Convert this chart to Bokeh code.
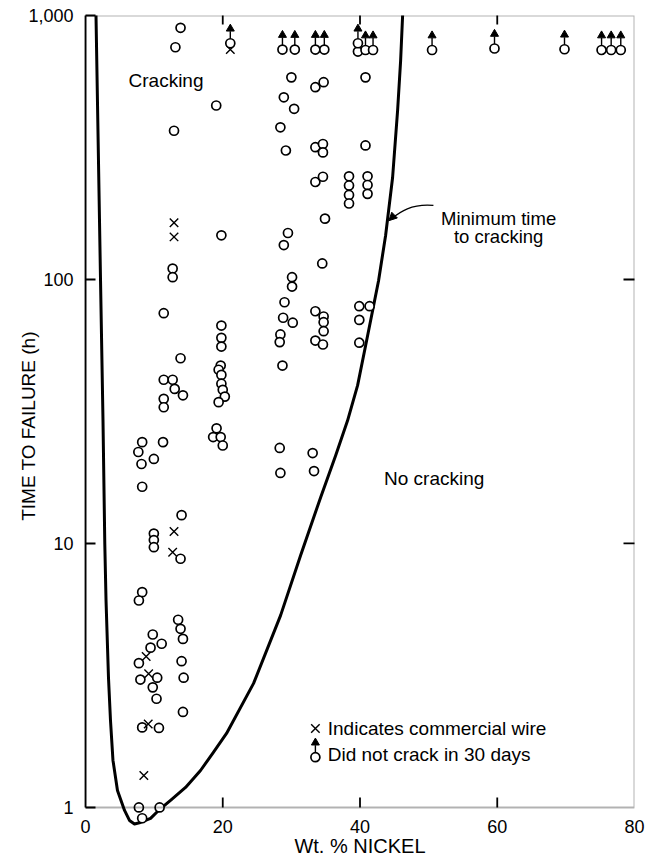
import math
from bokeh.plotting import figure
from bokeh.models import (LogAxis, LinearAxis, FixedTicker, Range1d, Label, Arrow,
                          NormalHead, LogScale, BoxAnnotation)
from bokeh.embed import file_html
from bokeh.resources import INLINE

FONT = "Liberation Sans"

# ---------------- data ----------------
cracked_ni = [13.85, 13.1, 12.9, 12.7, 12.7, 11.4, 13.85, 11.4, 12.7, 13.0, 14.2, 11.4, 11.4,
              8.26, 11.3, 7.7, 9.96, 8.16, 8.26, 14.0, 9.96, 9.96, 9.96, 13.85, 8.26, 7.78,
              13.5, 13.85, 14.2, 9.8, 11.1, 9.48, 7.78, 14.0, 8.0, 10.45, 9.8, 14.3, 10.35, 14.2,
              8.26, 10.7, 7.78, 10.8, 8.26,
              19.05, 19.8, 19.8, 19.8, 19.8, 19.7, 19.4, 19.8, 19.8, 20.0, 20.3, 19.4, 19.1, 18.6,
              19.7, 20.0,
              30.0, 28.9, 30.4, 28.4, 29.2, 29.5, 28.9, 30.1, 30.1, 29.0, 28.8, 30.2, 28.4, 28.3,
              28.7, 28.3, 28.4,
              33.5, 34.7, 33.5, 34.6, 34.6, 33.5, 34.6, 34.9, 34.5, 33.5, 34.7, 34.7, 34.7, 33.5,
              34.6, 33.1, 33.3,
              40.8, 40.8, 38.4, 38.4, 38.4, 38.4, 41.1, 41.1, 41.1, 39.9, 41.4, 39.9, 39.9, 39.7]
cracked_h = [898, 758, 366, 110, 102, 74.5, 50.3, 41.7, 41.7, 38.5, 36.4, 35.3, 32.8,
             24.2, 24.2, 22.2, 20.9, 20.0, 16.4, 12.8, 10.9, 10.3, 9.68, 8.75, 6.54, 6.08,
             5.14, 4.75, 4.35, 4.52, 4.17, 4.03, 3.52, 3.58, 3.05, 3.10, 2.85, 3.10, 2.58, 2.30,
             2.01, 2.00, 1.0, 1.0, 0.91,
             456, 147, 66.9, 60.1, 55.7, 47.2, 45.5, 43.5, 40.3, 38.2, 36.0, 34.3, 27.3, 25.3,
             25.3, 23.5,
             583, 490, 443, 377, 308, 150, 135, 102, 94, 82, 71.6, 68.6, 61.9, 57.9,
             47.2, 23.0, 18.5,
             535, 559, 317, 326, 303, 234, 245, 170, 115, 75.8, 72.4, 68.9, 63.7, 58.7,
             56.7, 22.0, 18.8,
             583, 322, 246, 227, 209, 194, 246, 228, 211, 79.2, 79.2, 70.3, 57.6, 730]

wire_ni = [12.9, 12.9, 12.9, 12.7, 8.84, 9.2, 9.14, 8.5, 21.1]
wire_h = [164, 145, 11.1, 9.27, 3.73, 3.21, 2.07, 1.32, 743]

nocrack_ni = [21.1, 28.7, 30.5, 33.5, 34.8, 39.7, 40.8, 41.9, 50.5, 59.6, 69.8, 75.2, 76.6, 78.0]
nocrack_h = [785, 743, 743, 743, 743, 785, 740, 740, 740, 750, 745, 740, 740, 740]

curve_ni = [1.45, 1.53, 2.19, 2.55, 2.81, 2.99, 3.35, 3.64, 4.0, 4.66, 5.69, 6.41, 7.14, 8.0,
            9.48, 10.64, 12.39, 14.58, 16.76, 18.66, 20.55, 24.49, 28.43, 31.34, 34.26, 36.44,
            38.19, 39.65, 40.82, 41.84, 42.71, 43.73, 44.75, 45.48, 45.92, 46.21, 46.3]
curve_h = [1100, 1000, 99, 29.2, 10, 6.1, 3.1, 2.14, 1.51, 1.16, 0.974, 0.893, 0.866, 0.877,
           0.909, 0.974, 1.063, 1.19, 1.38, 1.62, 1.907, 2.95, 5.34, 9.01, 14.94, 21.5,
           29.2, 39.7, 56.2, 76.3, 99.1, 146.8, 243.4, 436.8, 675, 1000, 1100]

x_ticks = [0, 20, 40, 60, 80]
y_ticks = [1, 10, 100, 1000]
y_tick_labels = ["1", "10", "100", "1,000"]
inner_x_ticks = [20, 40, 60]
inner_y_ticks = [10, 100]

# ---------------- figure ----------------
W, H = 647, 862
TOP, BOT = 15, 26
Y_START = 0.776   # the curve dips a little below the 1 h line
p = figure(width=W, height=H, output_backend="svg", toolbar_location=None,
           x_range=Range1d(0, 80), y_range=Range1d(Y_START, 1000),
           y_axis_type="log", x_axis_location=None, y_axis_location=None,
           min_border_left=85, min_border_right=13, min_border_top=TOP, min_border_bottom=BOT)
p.y_scale = LogScale()
p.outline_line_color = None
p.background_fill_color = "white"
p.border_fill_color = "white"
for g in p.grid:
    g.visible = False

PX_PER_DEC = (H - TOP - BOT) / (3 - math.log10(Y_START))
def up(h, px):
    """value that sits px screen pixels above h on the log axis"""
    return h * 10 ** (px / PX_PER_DEC)

LINE_W = 1.8
TICK_FS = "18px"

left = LogAxis(ticker=FixedTicker(ticks=y_ticks), bounds=(1, 1000),
               major_tick_in=10, major_tick_out=0, minor_tick_line_color=None,
               major_label_overrides={t: l for t, l in zip(y_ticks, y_tick_labels)},
               axis_line_width=LINE_W, major_tick_line_width=LINE_W,
               major_label_text_font=FONT, major_label_text_font_size=TICK_FS,
               major_label_text_color="black", major_label_standoff=12,
               axis_label="TIME TO FAILURE (h)", axis_label_text_font=FONT,
               axis_label_text_font_size="19px", axis_label_text_font_style="normal",
               axis_label_text_color="black", axis_label_standoff=-14)
p.add_layout(left, "left")

bottom = LinearAxis(ticker=FixedTicker(ticks=x_ticks),
                    axis_line_color=None, major_tick_line_color=None,
                    major_tick_in=0, major_tick_out=0, minor_tick_line_color=None,
                    major_label_text_font=FONT, major_label_text_font_size=TICK_FS,
                    major_label_text_color="black", major_label_standoff=-17,
                    axis_label="Wt. % NICKEL", axis_label_text_font=FONT,
                    axis_label_text_font_size="20px", axis_label_text_font_style="normal",
                    axis_label_text_color="black", axis_label_standoff=-1)
p.add_layout(bottom, "below")

# frame: 0..80 by 1..1000
p.add_layout(BoxAnnotation(left=0, right=80, bottom=1, top=1000, fill_color=None,
                           line_color="black", line_width=2))

# inward ticks on right / top (clipped to the frame) and bottom
p.scatter([80] * len(inner_y_ticks), inner_y_ticks, marker="dash", size=22,
          line_color="black", line_width=LINE_W)
p.scatter(inner_x_ticks, [1000] * len(inner_x_ticks), marker="dash", size=18, angle=math.pi / 2,
          line_color="black", line_width=LINE_W)
p.segment(x0=inner_x_ticks, y0=[1] * 3, x1=inner_x_ticks, y1=[up(1, 10)] * 3,
          line_color="black", line_width=LINE_W)

# ---------------- curve ----------------
p.line(curve_ni, curve_h, line_width=3, line_color="black", line_join="round")

# ---------------- points ----------------
p.scatter(cracked_ni, cracked_h, marker="circle", size=9, fill_color="white",
          line_color="black", line_width=1.7)
p.scatter(wire_ni, wire_h, marker="x", size=12, line_color="black", line_width=1.4)

p.segment(x0=nocrack_ni, y0=[up(h, 4.5) for h in nocrack_h],
          x1=nocrack_ni, y1=[up(h, 12) for h in nocrack_h],
          line_color="black", line_width=1.4)
p.scatter(nocrack_ni, [up(h, 14.5) for h in nocrack_h], marker="triangle", size=8,
          fill_color="black", line_color="black", line_width=1)
p.scatter(nocrack_ni, nocrack_h, marker="circle", size=9, fill_color="white",
          line_color="black", line_width=1.7)

# ---------------- legend (drawn by hand) ----------------
leg_x = [33.5]
p.scatter(leg_x, [1.99], marker="x", size=12, line_color="black", line_width=1.4)
p.segment(x0=leg_x, y0=[up(1.55, 4.5)], x1=leg_x, y1=[up(1.55, 12)],
          line_color="black", line_width=1.4)
p.scatter(leg_x, [up(1.55, 14.5)], marker="triangle", size=8, fill_color="black",
          line_color="black")
p.scatter(leg_x, [1.55], marker="circle", size=9, fill_color="white",
          line_color="black", line_width=1.7)

def lab(x, y, text, align="left", size="19px"):
    p.add_layout(Label(x=x, y=y, text=text, text_font=FONT, text_font_size=size,
                       text_color="black", text_align=align, text_baseline="middle"))

lab(35.3, 1.99, "Indicates commercial wire")
lab(35.3, 1.58, "Did not crack in 30 days")
lab(6.27, 567, "Cracking")
lab(43.5, 17.6, "No cracking")
lab(60.2, 170, "Minimum time", align="center", size="18.5px")
lab(60.2, 145, "to cracking", align="center", size="18.5px")

# annotation arrow
p.bezier(x0=[50.7], y0=[190.7], x1=[44.6], y1=[170], cx0=[47.5], cy0=[194], cx1=[45.8], cy1=[180],
         line_color="black", line_width=1.3)
p.add_layout(Arrow(end=NormalHead(size=8, fill_color="black", line_color="black"),
                   x_start=44.9, y_start=174, x_end=44.2, y_end=167,
                   line_color="black", line_width=1.3))

open("out.html", "w").write(file_html(p, INLINE))
